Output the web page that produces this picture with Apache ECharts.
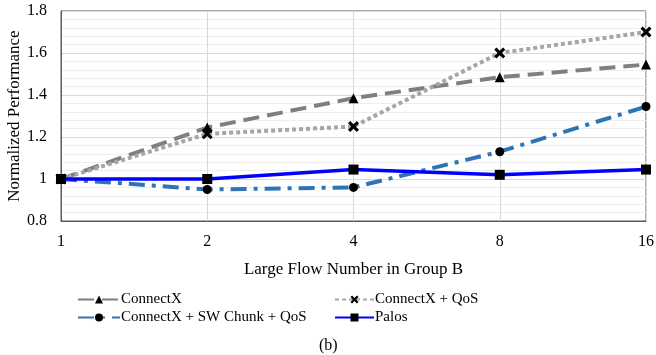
<!DOCTYPE html>
<html><head><meta charset="utf-8">
<script src="https://cdn.jsdelivr.net/npm/echarts@6/dist/echarts.min.js"></script>
<style>html,body{margin:0;padding:0;background:#fff}#c{width:656px;height:355px}</style>
</head><body><div id="c"></div>
<script>
const categories = ['1', '2', '4', '8', '16'];
const connectX = [1.0, 1.245, 1.385, 1.485, 1.545];
const connectXQoS = [1.0, 1.215, 1.25, 1.6, 1.70];
const swChunkQoS = [1.0, 0.95, 0.96, 1.13, 1.345];
const palos = [1.0, 1.0, 1.045, 1.02, 1.045];
const seriesNames = ['ConnectX', 'ConnectX + QoS', 'ConnectX + SW Chunk + QoS', 'Palos'];

const FONT = 'Liberation Serif';
const xPath = 'path://M0,2 L2,0 L5,3 L8,0 L10,2 L7,5 L10,8 L8,10 L5,7 L2,10 L0,8 L3,5 Z';
const chart = echarts.init(document.getElementById('c'), null, {renderer: 'canvas'});
const legendText = {fontFamily: FONT, fontSize: 15, color: '#000', padding: [0, 0, 0, -4]};
chart.setOption({
  animation: false,
  backgroundColor: '#fff',
  grid: {left: 61, right: 10, top: 11, bottom: 134, show: true, borderColor: '#595959', borderWidth: 1, backgroundColor: 'transparent', containLabel: false, outerBoundsMode: 'none'},
  xAxis: {
    type: 'category', data: categories, boundaryGap: false,
    name: 'Large Flow Number in Group B', nameLocation: 'middle', nameGap: 40, nameMoveOverlap: false,
    nameTextStyle: {fontFamily: FONT, fontSize: 17, color: '#000'},
    axisLine: {show: true, lineStyle: {color: '#595959'}},
    axisTick: {show: false},
    axisLabel: {fontFamily: FONT, fontSize: 16, color: '#000', margin: 13},
    splitLine: {show: true, lineStyle: {color: '#d9d9d9', width: 1}}
  },
  yAxis: {
    type: 'value', min: 0.8, max: 1.8, interval: 0.2,
    name: 'Normalized Performance', nameLocation: 'middle', nameGap: 38, nameMoveOverlap: false,
    nameTextStyle: {fontFamily: FONT, fontSize: 17, color: '#000'},
    axisLine: {show: true, lineStyle: {color: '#595959'}},
    axisTick: {show: false},
    axisLabel: {fontFamily: FONT, fontSize: 16, color: '#000', margin: 14,
      formatter: v => (Math.round(v * 10) / 10).toString()},
    splitLine: {show: true, lineStyle: {color: '#d9d9d9', width: 1}},
    minorTick: {show: false, splitNumber: 5},
    minorSplitLine: {show: true, lineStyle: {color: '#eeeeee', width: 1}}
  },
  legend: [
    {data: [seriesNames[0], seriesNames[2]], left: 72, top: 287, orient: 'vertical', itemGap: 3, itemWidth: 42, itemHeight: 10, textStyle: legendText, itemStyle: {color: '#000'}},
    {data: [seriesNames[1], seriesNames[3]], left: 329, top: 287, orient: 'vertical', itemGap: 3, itemWidth: 39, itemHeight: 10, textStyle: legendText, itemStyle: {color: '#000'}}
  ],
  graphic: [{type: 'text', left: 319, top: 338, style: {text: '(b)', fontFamily: FONT, fontSize: 16, fill: '#000'}}],
  series: [
    {name: seriesNames[0], type: 'line', data: connectX, symbol: 'triangle', symbolSize: 10,
      itemStyle: {color: '#000'}, lineStyle: {color: '#7f7f7f', width: 4, type: [16, 8]}, z: 2},
    {name: seriesNames[1], type: 'line', data: connectXQoS, symbol: xPath, symbolSize: 11,
      itemStyle: {color: '#000'}, lineStyle: {color: '#a6a6a6', width: 4, type: [4, 3]}, z: 2},
    {name: seriesNames[2], type: 'line', data: swChunkQoS, symbol: 'circle', symbolSize: 9,
      itemStyle: {color: '#000'}, lineStyle: {color: '#2e75b6', width: 4, type: [16, 7, 4, 7]}, z: 3},
    {name: seriesNames[3], type: 'line', data: palos, symbol: 'rect', symbolSize: 10,
      itemStyle: {color: '#000'}, lineStyle: {color: '#0000ff', width: 3.5}, z: 4}
  ]
});
</script></body></html>
